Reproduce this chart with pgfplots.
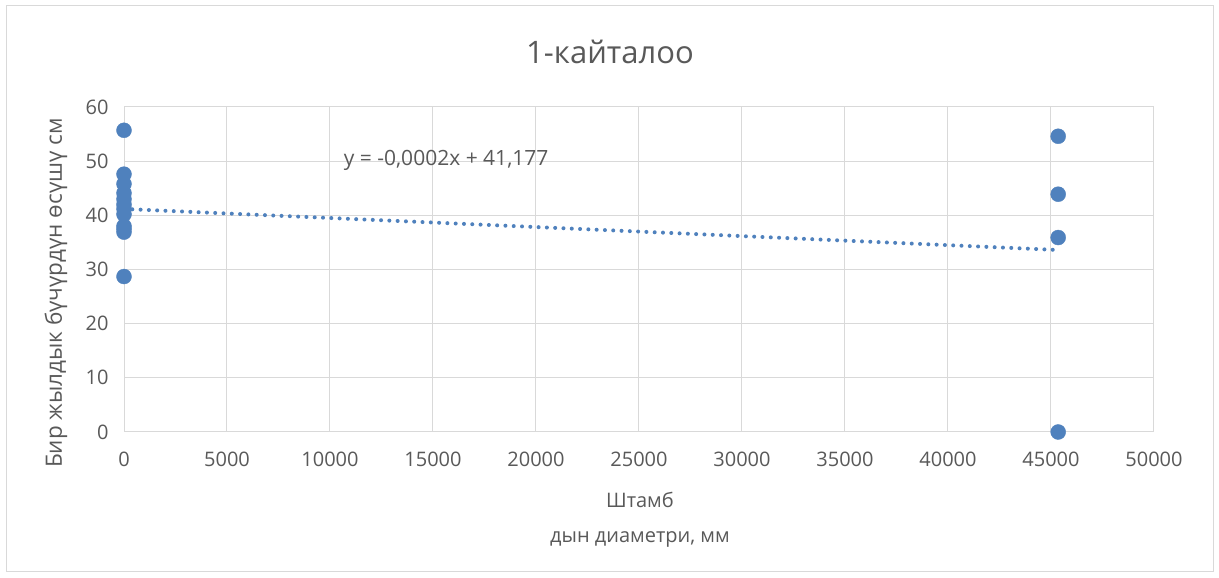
\documentclass[border=0pt]{standalone}
\usepackage{fontspec}
\setmainfont{Open Sans}
\usepackage{pgfplots}
\pgfplotsset{compat=1.18}
\definecolor{ptblue}{RGB}{79,129,189}
\definecolor{gridc}{RGB}{217,217,217}
\definecolor{txt}{RGB}{89,89,89}
\begin{document}
\begin{tikzpicture}[x=1pt,y=1pt]
\path[fill=white] (0,0) rectangle (1219,578);
\draw[gridc, line width=1pt] (6,6) rectangle (1213,572);
\node[txt, font=\fontsize{31}{36}\selectfont] at (610,526) {1-кайталоо};
\node[txt, font=\fontsize{20}{24}\selectfont] at (640,78) {Штамб};
\node[txt, font=\fontsize{20}{24}\selectfont] at (640,39) {дын диаметри, мм};
\node[txt, font=\fontsize{22.5}{26}\selectfont, rotate=90] at (56,285) {Бир жылдык бүчүрдүн өсүшү см};
\begin{axis}[
  at={(124pt,146pt)}, anchor=south west,
  width=1030pt, height=325pt, scale only axis,
  xmin=0, xmax=50000, ymin=0, ymax=60,
  xtick={0,5000,...,50000}, ytick={0,10,...,60},
  grid=major, major grid style={gridc, line width=1pt},
  axis line style={gridc, line width=1pt},
  tick style={draw=none},
  ticklabel style={txt, font=\fontsize{20}{24}\selectfont},
  /pgf/number format/assume math mode=true,
  /pgf/number format/set thousands separator={},
  scaled x ticks=false,
  xticklabel style={yshift=-16pt},
  yticklabel style={xshift=-12pt},
  clip=false,
]
\addplot[ptblue, line width=4pt, line cap=round, dash pattern=on 0pt off 8.3pt] coordinates {(0,41.18) (45350,33.6)};
\addplot[only marks, mark=*, mark size=7.5pt, mark options={fill=ptblue, draw=ptblue}] coordinates {
(0,55.7) (0,47.6) (0,45.8) (0,44.1) (0,43.0) (0,42.0) (0,41.2) (0,40.2) (0,38.0) (0,37.5) (0,36.9) (0,28.7)
(45350,54.6) (45350,43.9) (45350,35.9) (45350,0)
};
\node[txt, font=\fontsize{21}{24}\selectfont, anchor=west] at (axis cs:10500,50.2) {y = -0,0002x + 41,177};
\end{axis}
\end{tikzpicture}
\end{document}
